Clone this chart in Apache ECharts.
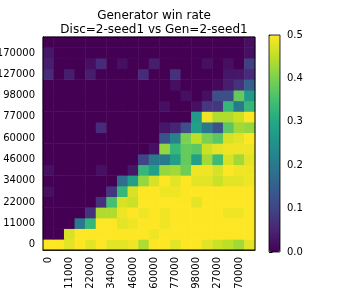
<!DOCTYPE html>
<html><head><meta charset="utf-8">
<script src="https://cdn.jsdelivr.net/npm/echarts@6/dist/echarts.min.js"></script>
<style>html,body{margin:0;padding:0;background:#fff}#c{width:342px;height:288px}</style>
</head><body><div id="c"></div>
<script>
// checkpoints (every other one is labelled)
const discSteps = ['0','5000','11000','16000','22000','28000','34000','40000','46000','53000','60000','68000','77000','87000','98000','112000','127000','148000','170000','200000'];
const genSteps  = ['0','5000','11000','16000','22000','28000','34000','40000','46000','53000','60000','68000','77000','87000','98000','112000','127000','148000','170000','200000'];
const colorbarTicks = [0, 0.1, 0.2, 0.3, 0.4, 0.5];
// win rate rows, row index = y category (bottom first), column = x category
const row0  = [0.5,0.5,0.48,0.5,0.48,0.5,0.48,0.48,0.49,0.44,0.5,0.5,0.48,0.5,0.5,0.48,0.46,0.45,0.43,0.48];
const row1  = [0,0,0.47,0.5,0.5,0.5,0.5,0.5,0.5,0.5,0.49,0.5,0.5,0.5,0.5,0.5,0.5,0.5,0.5,0.5];
const row2  = [0,0,0,0.2,0.33,0.5,0.5,0.48,0.49,0.5,0.5,0.49,0.5,0.5,0.5,0.5,0.5,0.5,0.5,0.5];
const row3  = [0,0,0,0,0.07,0.44,0.44,0.49,0.5,0.49,0.5,0.49,0.5,0.5,0.5,0.5,0.5,0.49,0.49,0.5];
const row4  = [0,0,0,0,0,0.07,0.35,0.47,0.46,0.5,0.5,0.5,0.5,0.5,0.48,0.5,0.5,0.5,0.5,0.5];
const row5  = [0.02,0,0,0,0,0,0.08,0.33,0.47,0.5,0.5,0.49,0.49,0.5,0.5,0.5,0.5,0.5,0.5,0.5];
const row6  = [0,0,0,0,0,0,0,0.18,0.28,0.42,0.47,0.5,0.48,0.5,0.48,0.48,0.46,0.48,0.48,0.49];
const row7  = [0.02,0,0,0,0,0.02,0,0,0.03,0.33,0.28,0.42,0.43,0.39,0.49,0.49,0.47,0.5,0.49,0.49];
const row8  = [0,0,0,0,0,0,0,0,0,0.1,0.2,0.2,0.28,0.38,0.28,0.43,0.34,0.47,0.43,0.48];
const row9  = [0,0,0,0,0,0,0,0,0,0,0.02,0.42,0.33,0.38,0.37,0.46,0.48,0.49,0.49,0.49];
const row10 = [0,0,0,0,0,0,0,0,0,0,0,0.13,0.22,0.4,0.45,0.4,0.37,0.47,0.48,0.5];
const row11 = [0,0,0,0,0,0.06,0,0,0,0,0,0.03,0.05,0.12,0.28,0.2,0.13,0.37,0.43,0.42];
const row12 = [0,0,0,0,0,0,0,0,0,0,0,0,0,0,0.27,0.49,0.44,0.44,0.46,0.5];
const row13 = [0,0,0,0,0,0,0,0,0,0,0,0.02,0,0,0.02,0.08,0.08,0.33,0.2,0.33];
const row14 = [0,0,0,0,0,0,0,0,0,0,0,0,0,0.02,0,0.02,0.12,0.12,0.38,0.27];
const row15 = [0,0,0,0,0,0,0,0,0,0,0,0,0.02,0,0,0,0.01,0.04,0.07,0.15];
const row16 = [0.06,0,0.04,0,0.04,0,0,0,0,0.06,0,0,0.07,0,0,0,0,0.03,0.03,0.06];
const row17 = [0.04,0,0,0,0.02,0.06,0,0.02,0,0,0.04,0,0,0,0,0.02,0,0.02,0,0.09];
const row18 = [0.03,0,0,0,0,0,0,0,0,0,0,0,0,0,0,0,0,0,0,0.02];
const row19 = [0,0,0,0,0,0,0,0,0,0,0,0,0,0,0,0,0,0,0,0.02];
const rows = [row0,row1,row2,row3,row4,row5,row6,row7,row8,row9,row10,row11,row12,row13,row14,row15,row16,row17,row18,row19];

const viridis = ['#440154','#482475','#414487','#355f8d','#2a788e','#21918c','#22a884','#44bf70','#7ad151','#bddf26','#fde725'];
const data = [];
rows.forEach((r, y) => r.forEach((v, x) => data.push([x, y, v])));

const FONT = 'DejaVu Sans';
const chart = echarts.init(document.getElementById('c'), null, {renderer: 'canvas'});
chart.setOption({
  animation: false,
  backgroundColor: '#fff',
  textStyle: {fontFamily: FONT},
  title: {
    text: 'Generator win rate\nDisc=2-seed1 vs Gen=2-seed1',
    left: 149, top: 4, textAlign: 'center',
    textStyle: {fontFamily: FONT, fontSize: 12, fontWeight: 'normal', color: '#000', lineHeight: 14}
  },
  grid: [
    {left: 43, top: 37, width: 212, height: 213, show: true, borderColor: '#000', borderWidth: 1,
     backgroundColor: 'transparent', z: 5, containLabel: false, outerBoundsMode: 'none'},
    {left: 269, top: 35, width: 11, height: 217, show: true, borderColor: '#000', borderWidth: 0.8,
     backgroundColor: 'transparent', z: 5, containLabel: false, outerBoundsMode: 'none'}
  ],
  xAxis: [
    {type: 'category', gridIndex: 0, data: genSteps,
     axisLine: {lineStyle: {color: '#000', width: 1}},
     axisTick: {alignWithLabel: true, interval: 1, length: 3.5, lineStyle: {color: '#000'}},
     axisLabel: {interval: 1, rotate: 90, fontSize: 10, color: '#000', margin: 7, fontFamily: FONT},
     splitLine: {show: false}},
    {type: 'value', gridIndex: 1, show: false, min: 0, max: 1}
  ],
  yAxis: [
    {type: 'category', gridIndex: 0, data: discSteps,
     axisLine: {lineStyle: {color: '#000', width: 1}},
     axisTick: {alignWithLabel: true, interval: 1, length: 3.5, lineStyle: {color: '#000'}},
     axisLabel: {interval: 1, fontSize: 10, color: '#000', margin: 8, fontFamily: FONT},
     splitLine: {show: false}},
    {type: 'value', gridIndex: 1, position: 'right', min: 0, max: 0.5, interval: 0.1,
     axisLine: {show: false},
     axisTick: {show: true, length: 3.5, lineStyle: {color: '#000'}},
     axisLabel: {fontSize: 10, color: '#000', margin: 7, fontFamily: FONT, formatter: v => v.toFixed(1)},
     splitLine: {show: false}}
  ],
  visualMap: {
    type: 'continuous', min: 0, max: 0.5, seriesIndex: 0,
    calculable: false, show: true, left: 269, top: 35, itemWidth: 11, itemHeight: 217,
    padding: 0, text: null, showLabel: false,
    inRange: {color: viridis}
  },
  series: [{
    type: 'heatmap', xAxisIndex: 0, yAxisIndex: 0, data: data,
    itemStyle: {borderWidth: 0},
    emphasis: {disabled: true}
  }]
});
</script></body></html>
